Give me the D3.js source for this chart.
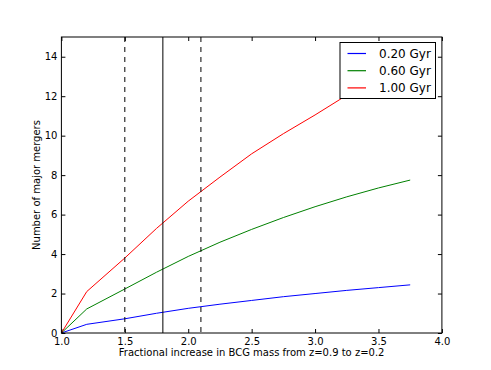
<!DOCTYPE html>
<html><head><meta charset="utf-8">
<script src="https://cdn.jsdelivr.net/npm/d3@7"></script>
<style>body{margin:0;background:#fff}svg{display:block;font-family:"DejaVu Sans",sans-serif}</style>
</head><body>
<script>
const xValues = [1.0, 1.2, 1.5, 1.75, 2.0, 2.25, 2.5, 2.75, 3.0, 3.25, 3.5, 3.75];
const blueValues = [0, 0.44, 0.72, 1.0, 1.25, 1.46, 1.65, 1.84, 2.0, 2.16, 2.3, 2.44];
const greenValues = [0, 1.22, 2.23, 3.08, 3.88, 4.6, 5.25, 5.85, 6.4, 6.9, 7.35, 7.75];
const redValues = [0, 2.1, 3.8, 5.3, 6.68, 7.9, 9.08, 10.1, 11.05, 12.05, 12.95, 13.8];
const seriesNames = ["0.20 Gyr", "0.60 Gyr", "1.00 Gyr"];
const seriesColors = ["#0000ff", "#008000", "#ff0000"];
const xTicks = [1.0, 1.5, 2.0, 2.5, 3.0, 3.5, 4.0];
const yTicks = [0, 2, 4, 6, 8, 10, 12, 14];
const dashedLines = [1.5, 2.1];
const solidLines = [1.8];

const W = 491, H = 370;
const L = 61.4, R = 441.9, T = 37, B = 333;
const svg = d3.select("body").append("svg").attr("width", W).attr("height", H);
const x = d3.scaleLinear().domain([1, 4]).range([L, R]);
const y = d3.scaleLinear().domain([0, 15]).range([B, T]);

svg.append("defs").append("clipPath").attr("id","c")
  .append("rect").attr("x",L).attr("y",T).attr("width",R-L).attr("height",B-T);
const g = svg.append("g").attr("clip-path","url(#c)");

const allSeries = [blueValues, greenValues, redValues];
const line = d3.line().x(d => x(d[0])).y(d => y(d[1]));
allSeries.forEach((vals, i) => {
  g.append("path").datum(xValues.map((xv, j) => [xv, vals[j]]))
    .attr("d", line).attr("fill","none").attr("stroke", seriesColors[i]).attr("stroke-width", 1);
});
dashedLines.forEach(v => g.append("line").attr("x1",x(v)).attr("x2",x(v)).attr("y1",T).attr("y2",B)
  .attr("stroke","#000").attr("stroke-width",1).attr("stroke-dasharray","5,5"));
solidLines.forEach(v => g.append("line").attr("x1",x(v)).attr("x2",x(v)).attr("y1",T).attr("y2",B)
  .attr("stroke","#000").attr("stroke-width",1));

// axes
const fmtX = d3.format(".1f");
const axB = svg.append("g").attr("transform",`translate(0,${B})`)
  .call(d3.axisBottom(x).tickValues(xTicks).tickFormat(fmtX).tickSizeInner(-4).tickSizeOuter(0).tickPadding(5));
const axT = svg.append("g").attr("transform",`translate(0,${T})`)
  .call(d3.axisTop(x).tickValues(xTicks).tickFormat("").tickSizeInner(-4).tickSizeOuter(0));
const axL = svg.append("g").attr("transform",`translate(${L},0)`)
  .call(d3.axisLeft(y).tickValues(yTicks).tickFormat(d3.format("d")).tickSizeInner(-4).tickSizeOuter(0).tickPadding(4));
const axR = svg.append("g").attr("transform",`translate(${R},0)`)
  .call(d3.axisRight(y).tickValues(yTicks).tickFormat("").tickSizeInner(-4).tickSizeOuter(0));
[axB, axT, axL, axR].forEach(a => {
  a.select(".domain").remove();
  a.selectAll("text").attr("font-size", 10).attr("fill","#000").attr("font-family","DejaVu Sans");
  a.selectAll("line").attr("stroke","#000");
});
axB.selectAll("text").attr("dy","0.71em");
svg.append("rect").attr("x",L).attr("y",T).attr("width",R-L).attr("height",B-T)
  .attr("fill","none").attr("stroke","#000").attr("stroke-width",1);

svg.append("text").attr("x",(L+R)/2).attr("y",356).attr("text-anchor","middle")
  .attr("font-size",10).text("Fractional increase in BCG mass from z=0.9 to z=0.2");
svg.append("text").attr("transform",`translate(40,${(T+B)/2}) rotate(-90)`).attr("text-anchor","middle")
  .attr("font-size",10).text("Number of major mergers");

// legend
const lg = svg.append("g");
lg.append("rect").attr("x",340).attr("y",42.5).attr("width",95.5).attr("height",56)
  .attr("fill","#fff").attr("stroke","#000").attr("stroke-width",1);
seriesNames.forEach((n, i) => {
  const yy = 53.5 + i*17.2;
  lg.append("line").attr("x1",347.5).attr("x2",366).attr("y1",yy).attr("y2",yy)
    .attr("stroke",seriesColors[i]).attr("stroke-width",1.2);
  lg.append("text").attr("x",379).attr("y",yy).attr("dy","0.36em").attr("font-size",12).text(n);
});
</script>
</body></html>
